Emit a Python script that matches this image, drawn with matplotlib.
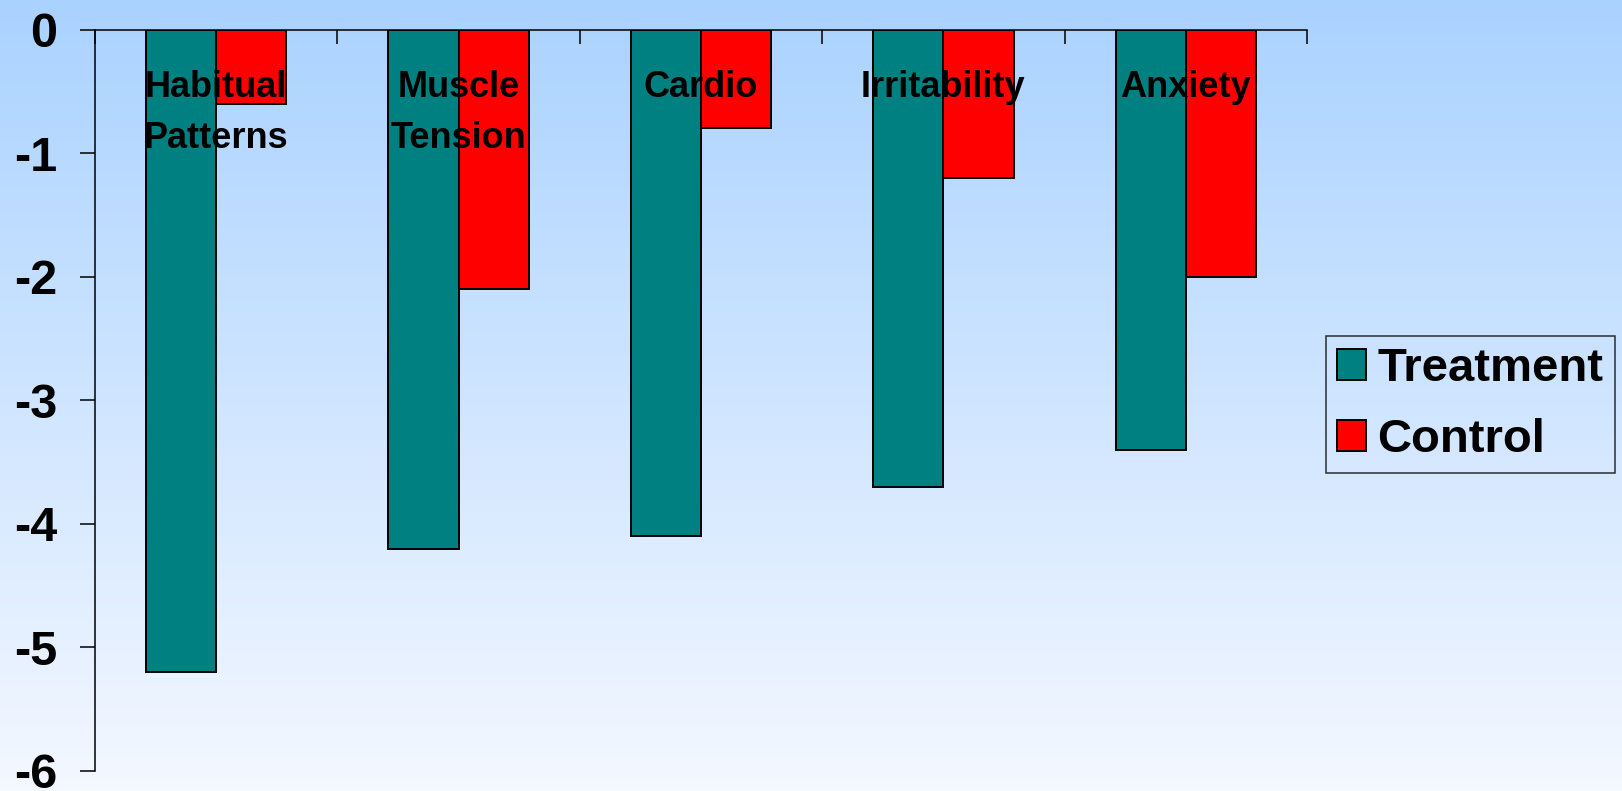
import numpy as np
import matplotlib
matplotlib.use("Agg")
import matplotlib.pyplot as plt
from matplotlib.colors import LinearSegmentedColormap

categories = ["Habitual\nPatterns", "Muscle\nTension", "Cardio", "Irritability", "Anxiety"]
treatment = [-5.2, -4.2, -4.1, -3.7, -3.4]
control = [-0.6, -2.1, -0.8, -1.2, -2.0]
y_ticks = [0, -1, -2, -3, -4, -5, -6]

plt.rcParams["font.family"] = ["Liberation Sans", "DejaVu Sans"]
plt.rcParams["font.weight"] = "bold"

W, H, DPI = 1622, 791, 100
fig = plt.figure(figsize=(W / DPI, H / DPI), dpi=DPI)

# vertical sky-blue to white background
bg = fig.add_axes([0, 0, 1, 1], zorder=-10)
grad = np.linspace(0, 1, 256).reshape(-1, 1)
cmap = LinearSegmentedColormap.from_list("sky", ["#AAD2FF", "#F4F8FF"])
bg.imshow(grad, aspect="auto", cmap=cmap, extent=[0, 1, 0, 1], origin="upper")
bg.axis("off")

ax = fig.add_axes([95 / W, 20 / H, 1212 / W, 741.5 / H])
ax.patch.set_alpha(0)

x = np.arange(len(categories))
bw = 0.29
ax.bar(x - bw / 2, treatment, bw, color="#008080", edgecolor="black", linewidth=1.4,
       label="Treatment", zorder=2)
ax.bar(x + bw / 2, control, bw, color="#FF0000", edgecolor="black", linewidth=1.4,
       label="Control", zorder=2)

# category names sit inside the plot, just under the zero line
line_step = 0.405
for xi, name in zip(x, categories):
    for k, line in enumerate(name.split("\n")):
        ax.text(xi, -0.55 - k * line_step, line, ha="center", va="baseline",
                fontsize=26, fontweight="bold", zorder=3)

ax.set_xlim(-0.5, len(categories) - 0.5)
ax.set_ylim(-6, 0)
ax.set_yticks(y_ticks)
ax.set_yticklabels([str(v) for v in y_ticks], fontsize=35, fontweight="bold")
ax.tick_params(axis="y", direction="out", length=11, width=1.1, pad=16)

ax.xaxis.set_ticks_position("top")
ax.set_xticks(np.arange(-0.5, len(categories), 1.0))
ax.set_xticklabels([])
ax.tick_params(axis="x", direction="in", length=10, width=1.1)

for side in ("right", "bottom"):
    ax.spines[side].set_visible(False)
for side in ("left", "top"):
    ax.spines[side].set_linewidth(1.1)

leg = ax.legend(loc="upper left", bbox_to_anchor=(1326 / W, 1 - 336 / H),
                bbox_transform=fig.transFigure, fontsize=34, frameon=True,
                fancybox=False, edgecolor="black", facecolor="none",
                handlelength=0.6, handleheight=0.64, handletextpad=0.25,
                borderpad=0.24, labelspacing=0.56, borderaxespad=0)
leg.get_frame().set_linewidth(1.1)
for t in leg.get_texts():
    t.set_fontweight("bold")

fig.savefig("out.png", dpi=DPI)
